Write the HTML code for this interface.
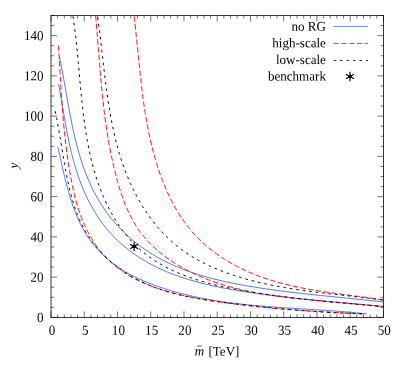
<!DOCTYPE html>
<html><head><meta charset="utf-8"><title>plot</title>
<style>html,body{margin:0;padding:0;background:#fff;}svg{display:block;font-family:"Liberation Serif",serif;will-change:transform;}</style></head><body>
<svg width="407" height="372" viewBox="0 0 407 372">
<rect width="407" height="372" fill="#fff"/>
<defs><clipPath id="c"><rect x="51.0" y="15.5" width="332.45" height="301.9"/></clipPath></defs>
<g clip-path="url(#c)" fill="none" stroke-linecap="butt" stroke-linejoin="round">
<path d="M59.45,57.05 L59.88,59.02 L60.30,61.01 L60.71,63.00 L61.11,65.00 L61.51,67.02 L61.90,69.03 L62.29,71.06 L62.67,73.10 L63.05,75.14 L63.42,77.19 L63.80,79.24 L64.17,81.30 L64.53,83.37 L64.90,85.44 L65.26,87.52 L65.63,89.60 L65.99,91.69 L66.36,93.78 L66.72,95.87 L67.09,97.97 L67.46,100.07 L67.83,102.18 L68.20,104.28 L68.58,106.39 L68.96,108.50 L69.35,110.61 L69.74,112.72 L70.14,114.83 L70.54,116.94 L70.95,119.06 L71.37,121.17 L71.79,123.28 L72.23,125.39 L72.67,127.50 L73.12,129.61 L73.58,131.71 L74.05,133.82 L74.53,135.92 L75.02,138.01 L75.52,140.11 L76.04,142.20 L76.56,144.28 L77.10,146.36 L77.66,148.44 L78.23,150.51 L78.81,152.58 L79.41,154.64 L80.02,156.69 L80.65,158.74 L81.30,160.78 L81.96,162.81 L82.65,164.84 L83.35,166.86 L84.07,168.87 L84.80,170.87 L85.56,172.86 L86.34,174.85 L87.14,176.82 L87.95,178.78 L88.79,180.74 L89.65,182.68 L90.53,184.61 L91.43,186.53 L92.35,188.44 L93.29,190.33 L94.26,192.21 L95.24,194.08 L96.25,195.93 L97.28,197.77 L98.33,199.60 L99.41,201.41 L100.51,203.20 L101.63,204.98 L102.77,206.74 L103.94,208.49 L105.13,210.22 L106.34,211.93 L107.58,213.62 L108.84,215.30 L110.12,216.95 L111.43,218.59 L112.76,220.21 L114.11,221.81 L115.48,223.39 L116.88,224.95 L118.29,226.50 L119.73,228.02 L121.18,229.53 L122.66,231.01 L124.16,232.48 L125.67,233.92 L127.21,235.35 L128.76,236.75 L130.33,238.14 L131.92,239.50 L133.53,240.84 L135.15,242.17 L136.79,243.47 L138.45,244.75 L140.13,246.00 L141.82,247.24 L143.52,248.46 L145.25,249.65 L146.98,250.82 L148.73,251.97 L150.50,253.10 L152.28,254.20 L154.08,255.28 L155.88,256.34 L157.70,257.38 L159.54,258.39 L161.38,259.39 L163.24,260.36 L165.11,261.31 L166.99,262.24 L168.89,263.15 L170.79,264.04 L172.71,264.91 L174.64,265.76 L176.57,266.60 L178.52,267.41 L180.48,268.20 L182.44,268.98 L184.42,269.74 L186.40,270.48 L188.40,271.21 L190.40,271.91 L192.41,272.60 L194.43,273.28 L196.45,273.94 L198.49,274.58 L200.53,275.21 L202.57,275.82 L204.63,276.42 L206.69,277.00 L208.75,277.57 L210.82,278.13 L212.90,278.67 L214.98,279.20 L217.06,279.72 L219.15,280.22 L221.25,280.72 L223.35,281.20 L225.45,281.67 L227.56,282.12 L229.66,282.57 L231.78,283.01 L233.89,283.43 L236.01,283.85 L238.13,284.26 L240.25,284.65 L242.37,285.04 L244.49,285.42 L246.61,285.79 L248.74,286.16 L250.86,286.51 L252.99,286.86 L255.11,287.20 L257.24,287.54 L259.36,287.86 L261.48,288.19 L263.60,288.50 L265.72,288.81 L267.84,289.12 L269.95,289.42 L272.07,289.71 L274.18,290.00 L276.29,290.29 L278.40,290.57 L280.51,290.84 L282.61,291.11 L284.72,291.38 L286.82,291.64 L288.92,291.90 L291.03,292.16 L293.13,292.41 L295.23,292.66 L297.32,292.91 L299.42,293.15 L301.52,293.39 L303.61,293.63 L305.71,293.86 L307.80,294.09 L309.90,294.32 L311.99,294.55 L314.09,294.77 L316.18,294.99 L318.27,295.21 L320.36,295.43 L322.45,295.65 L324.55,295.87 L326.64,296.08 L328.73,296.30 L330.82,296.51 L332.91,296.72 L335.00,296.93 L337.09,297.14 L339.18,297.35 L341.28,297.56 L343.37,297.77 L345.46,297.98 L347.55,298.19 L349.65,298.40 L351.74,298.61 L353.84,298.82 L355.93,299.03 L358.03,299.25 L360.13,299.46 L362.22,299.67 L364.32,299.89 L366.42,300.11 L368.52,300.33 L370.63,300.55 L372.73,300.77 L374.83,301.00 L376.94,301.22 L379.04,301.45 L381.15,301.68 L383.26,301.92" stroke="#4166ea" stroke-width="0.92"/>
<path d="M58.56,83.98 L58.92,85.89 L59.27,87.80 L59.62,89.73 L59.96,91.67 L60.31,93.62 L60.65,95.57 L60.99,97.54 L61.32,99.51 L61.66,101.49 L62.00,103.48 L62.34,105.47 L62.68,107.48 L63.02,109.48 L63.36,111.50 L63.70,113.51 L64.05,115.54 L64.40,117.56 L64.76,119.59 L65.11,121.63 L65.48,123.66 L65.85,125.70 L66.22,127.75 L66.60,129.79 L66.99,131.84 L67.39,133.88 L67.79,135.93 L68.21,137.98 L68.63,140.02 L69.06,142.07 L69.50,144.12 L69.95,146.16 L70.41,148.20 L70.88,150.24 L71.37,152.28 L71.87,154.31 L72.38,156.34 L72.90,158.37 L73.44,160.39 L73.99,162.41 L74.56,164.42 L75.14,166.42 L75.74,168.42 L76.36,170.42 L76.99,172.41 L77.64,174.38 L78.31,176.36 L78.99,178.32 L79.70,180.27 L80.42,182.22 L81.17,184.16 L81.93,186.08 L82.71,188.00 L83.51,189.91 L84.34,191.80 L85.18,193.69 L86.04,195.56 L86.92,197.42 L87.83,199.27 L88.75,201.10 L89.69,202.92 L90.66,204.73 L91.64,206.52 L92.65,208.30 L93.68,210.06 L94.72,211.81 L95.79,213.54 L96.88,215.26 L98.00,216.96 L99.13,218.64 L100.28,220.31 L101.46,221.95 L102.66,223.58 L103.88,225.19 L105.12,226.78 L106.39,228.36 L107.68,229.91 L108.99,231.44 L110.32,232.95 L111.67,234.44 L113.05,235.91 L114.45,237.36 L115.87,238.78 L117.31,240.19 L118.78,241.57 L120.26,242.93 L121.77,244.27 L123.29,245.59 L124.84,246.89 L126.40,248.16 L127.98,249.42 L129.58,250.65 L131.20,251.86 L132.83,253.05 L134.48,254.22 L136.15,255.37 L137.83,256.50 L139.53,257.60 L141.24,258.69 L142.97,259.75 L144.71,260.79 L146.46,261.81 L148.23,262.81 L150.01,263.79 L151.80,264.74 L153.61,265.68 L155.42,266.59 L157.25,267.49 L159.09,268.37 L160.94,269.22 L162.80,270.06 L164.67,270.87 L166.55,271.67 L168.44,272.45 L170.34,273.22 L172.25,273.96 L174.17,274.69 L176.10,275.40 L178.03,276.09 L179.98,276.77 L181.93,277.43 L183.89,278.07 L185.85,278.70 L187.83,279.32 L189.81,279.92 L191.79,280.50 L193.79,281.07 L195.79,281.63 L197.79,282.17 L199.80,282.70 L201.82,283.22 L203.84,283.73 L205.87,284.22 L207.90,284.70 L209.93,285.17 L211.97,285.62 L214.01,286.07 L216.05,286.51 L218.10,286.93 L220.15,287.35 L222.20,287.75 L224.26,288.15 L226.32,288.53 L228.38,288.91 L230.44,289.28 L232.50,289.64 L234.56,290.00 L236.62,290.34 L238.69,290.68 L240.75,291.01 L242.81,291.34 L244.87,291.65 L246.94,291.97 L249.00,292.27 L251.06,292.58 L253.11,292.87 L255.17,293.17 L257.22,293.45 L259.28,293.74 L261.32,294.02 L263.37,294.29 L265.42,294.56 L267.46,294.83 L269.50,295.10 L271.54,295.36 L273.58,295.62 L275.61,295.87 L277.65,296.12 L279.68,296.37 L281.71,296.61 L283.74,296.85 L285.77,297.09 L287.79,297.33 L289.82,297.56 L291.84,297.79 L293.87,298.02 L295.89,298.24 L297.91,298.47 L299.94,298.68 L301.96,298.90 L303.98,299.12 L306.00,299.33 L308.02,299.54 L310.04,299.75 L312.06,299.96 L314.08,300.16 L316.10,300.36 L318.12,300.57 L320.14,300.76 L322.16,300.96 L324.18,301.16 L326.21,301.35 L328.23,301.55 L330.25,301.74 L332.28,301.93 L334.30,302.12 L336.33,302.31 L338.36,302.50 L340.39,302.69 L342.42,302.87 L344.45,303.06 L346.48,303.24 L348.51,303.43 L350.55,303.61 L352.59,303.80 L354.63,303.98 L356.67,304.16 L358.71,304.35 L360.76,304.53 L362.81,304.71 L364.86,304.89 L366.91,305.08 L368.97,305.26 L371.03,305.44 L373.09,305.63 L375.15,305.81 L377.22,306.00 L379.28,306.18 L381.36,306.37 L383.43,306.56" stroke="#4166ea" stroke-width="0.92"/>
<path d="M57.82,146.98 L58.21,148.65 L58.60,150.33 L58.98,152.03 L59.37,153.73 L59.75,155.44 L60.14,157.16 L60.52,158.89 L60.91,160.63 L61.30,162.38 L61.69,164.13 L62.09,165.89 L62.49,167.65 L62.89,169.42 L63.30,171.19 L63.71,172.97 L64.13,174.75 L64.56,176.53 L64.99,178.31 L65.43,180.10 L65.88,181.88 L66.33,183.67 L66.80,185.46 L67.27,187.24 L67.75,189.03 L68.25,190.81 L68.75,192.58 L69.27,194.36 L69.79,196.13 L70.33,197.90 L70.88,199.66 L71.45,201.42 L72.03,203.17 L72.62,204.91 L73.23,206.64 L73.85,208.37 L74.49,210.09 L75.14,211.80 L75.82,213.50 L76.51,215.19 L77.21,216.87 L77.94,218.53 L78.68,220.19 L79.44,221.83 L80.23,223.46 L81.03,225.07 L81.86,226.67 L82.70,228.26 L83.57,229.83 L84.46,231.38 L85.37,232.92 L86.31,234.43 L87.27,235.93 L88.25,237.42 L89.26,238.88 L90.29,240.32 L91.34,241.75 L92.42,243.16 L93.52,244.55 L94.64,245.92 L95.79,247.27 L96.95,248.60 L98.14,249.91 L99.35,251.20 L100.57,252.47 L101.82,253.73 L103.09,254.96 L104.38,256.18 L105.68,257.37 L107.01,258.55 L108.35,259.70 L109.71,260.84 L111.09,261.95 L112.49,263.05 L113.91,264.12 L115.34,265.18 L116.78,266.21 L118.25,267.23 L119.73,268.22 L121.22,269.19 L122.73,270.15 L124.26,271.08 L125.80,271.99 L127.35,272.88 L128.92,273.75 L130.49,274.61 L132.09,275.44 L133.69,276.25 L135.30,277.05 L136.92,277.83 L138.55,278.59 L140.19,279.34 L141.84,280.07 L143.50,280.79 L145.16,281.49 L146.83,282.18 L148.50,282.85 L150.18,283.51 L151.86,284.16 L153.54,284.80 L155.23,285.43 L156.92,286.04 L158.62,286.64 L160.32,287.23 L162.02,287.81 L163.73,288.37 L165.44,288.93 L167.15,289.47 L168.87,290.00 L170.59,290.53 L172.31,291.04 L174.04,291.54 L175.76,292.03 L177.50,292.51 L179.23,292.98 L180.97,293.44 L182.71,293.89 L184.45,294.33 L186.20,294.76 L187.95,295.18 L189.70,295.59 L191.46,295.99 L193.21,296.39 L194.97,296.77 L196.73,297.15 L198.50,297.52 L200.27,297.88 L202.03,298.23 L203.81,298.57 L205.58,298.90 L207.35,299.23 L209.13,299.55 L210.91,299.86 L212.69,300.16 L214.47,300.46 L216.26,300.75 L218.04,301.03 L219.83,301.31 L221.62,301.58 L223.41,301.84 L225.21,302.09 L227.00,302.34 L228.80,302.59 L230.59,302.82 L232.39,303.05 L234.19,303.28 L235.99,303.50 L237.80,303.71 L239.60,303.92 L241.40,304.13 L243.21,304.32 L245.01,304.52 L246.82,304.71 L248.63,304.89 L250.44,305.07 L252.25,305.25 L254.06,305.42 L255.87,305.59 L257.68,305.75 L259.49,305.91 L261.30,306.06 L263.11,306.22 L264.93,306.37 L266.74,306.51 L268.55,306.65 L270.36,306.79 L272.18,306.93 L273.99,307.06 L275.80,307.20 L277.62,307.33 L279.43,307.45 L281.24,307.58 L283.05,307.70 L284.87,307.82 L286.68,307.94 L288.49,308.06 L290.30,308.18 L292.11,308.29 L293.92,308.41 L295.73,308.52 L297.54,308.63 L299.35,308.74 L301.15,308.86 L302.96,308.97 L304.77,309.08 L306.57,309.19 L308.37,309.30 L310.18,309.41 L311.98,309.52 L313.78,309.63 L315.57,309.75 L317.37,309.86 L319.17,309.97 L320.96,310.09 L322.76,310.20 L324.55,310.32 L326.34,310.44 L328.12,310.56 L329.91,310.68 L331.70,310.81 L333.48,310.93 L335.26,311.06 L337.04,311.19 L338.82,311.32 L340.59,311.46 L342.37,311.60 L344.14,311.74 L345.91,311.88 L347.67,312.03 L349.44,312.18 L351.20,312.33 L352.96,312.49 L354.72,312.65 L356.47,312.82 L358.22,312.99 L359.97,313.16 L361.72,313.34 L363.46,313.52 L365.20,313.70 L366.94,313.90" stroke="#4166ea" stroke-width="0.92"/>
<path d="M58.44,45.64 L58.58,47.88 L58.71,50.12 L58.85,52.35 L58.98,54.59 L59.12,56.83 L59.25,59.06 L59.38,61.30 L59.51,63.53 L59.64,65.76 L59.77,67.99 L59.90,70.23 L60.03,72.46 L60.17,74.69 L60.30,76.92 L60.43,79.15 L60.56,81.37 L60.70,83.60 L60.84,85.83 L60.98,88.06 L61.12,90.28 L61.26,92.51 L61.41,94.74 L61.56,96.96 L61.71,99.19 L61.86,101.41 L62.02,103.63 L62.19,105.86 L62.35,108.08 L62.52,110.30 L62.70,112.53 L62.88,114.75 L63.06,116.97 L63.25,119.19 L63.45,121.41 L63.65,123.63 L63.85,125.85 L64.07,128.07 L64.28,130.29 L64.51,132.51 L64.74,134.73 L64.98,136.95 L65.23,139.17 L65.48,141.39 L65.74,143.61 L66.01,145.83 L66.28,148.04 L66.57,150.26 L66.86,152.48 L67.16,154.70 L67.47,156.92 L67.79,159.13 L68.12,161.35 L68.46,163.57 L68.81,165.79 L69.17,168.00 L69.54,170.22 L69.92,172.44 L70.31,174.66 L70.71,176.87 L71.13,179.09 L71.55,181.31 L71.99,183.52 L72.44,185.74 L72.90,187.95 L73.38,190.17 L73.88,192.37 L74.40,194.58 L74.94,196.77 L75.50,198.97 L76.08,201.15 L76.68,203.33 L77.32,205.50 L77.97,207.66 L78.66,209.81 L79.37,211.95 L80.12,214.08 L80.89,216.19 L81.70,218.30 L82.54,220.39 L83.42,222.46 L84.32,224.52 L85.26,226.56 L86.23,228.58 L87.23,230.58 L88.27,232.56 L89.33,234.52 L90.43,236.46 L91.56,238.38 L92.73,240.27 L93.92,242.14 L95.15,243.98 L96.41,245.79 L97.70,247.57 L99.02,249.33 L100.38,251.05 L101.77,252.75 L103.19,254.41 L104.64,256.04 L106.12,257.63 L107.63,259.19 L109.18,260.71 L110.76,262.20 L112.37,263.64 L114.01,265.05 L115.68,266.43 L117.38,267.76 L119.11,269.07 L120.87,270.33 L122.65,271.57 L124.46,272.76 L126.30,273.93 L128.16,275.06 L130.04,276.17 L131.95,277.24 L133.88,278.28 L135.83,279.29 L137.81,280.27 L139.80,281.22 L141.81,282.15 L143.84,283.05 L145.90,283.92 L147.96,284.76 L150.05,285.58 L152.15,286.38 L154.26,287.15 L156.39,287.90 L158.54,288.62 L160.69,289.33 L162.86,290.01 L165.04,290.67 L167.23,291.31 L169.43,291.93 L171.64,292.53 L173.86,293.11 L176.08,293.67 L178.31,294.22 L180.55,294.75 L182.79,295.27 L185.04,295.77 L187.29,296.25 L189.55,296.72 L191.81,297.18 L194.06,297.62 L196.32,298.05 L198.58,298.47 L200.84,298.88 L203.10,299.28 L205.36,299.67 L207.61,300.05 L209.86,300.43 L212.10,300.79 L214.34,301.15 L216.58,301.50 L218.81,301.84 L221.04,302.17 L223.27,302.50 L225.49,302.82 L227.71,303.13 L229.93,303.44 L232.14,303.74 L234.35,304.03 L236.56,304.31 L238.77,304.59 L240.97,304.87 L243.17,305.13 L245.37,305.40 L247.57,305.65 L249.77,305.90 L251.96,306.14 L254.15,306.38 L256.35,306.62 L258.54,306.84 L260.73,307.07 L262.92,307.29 L265.11,307.50 L267.30,307.71 L269.49,307.91 L271.67,308.11 L273.86,308.30 L276.05,308.49 L278.24,308.68 L280.43,308.86 L282.62,309.04 L284.81,309.22 L287.01,309.39 L289.20,309.56 L291.40,309.72 L293.59,309.88 L295.79,310.04 L297.99,310.19 L300.19,310.35 L302.40,310.50 L304.60,310.64 L306.81,310.79 L309.02,310.93 L311.24,311.07 L313.46,311.21 L315.68,311.34 L317.90,311.48 L320.13,311.61 L322.36,311.74 L324.59,311.87 L326.83,312.00 L329.07,312.12 L331.31,312.25 L333.56,312.37 L335.82,312.50 L338.08,312.62 L340.34,312.74 L342.61,312.86 L344.88,312.98 L347.16,313.10 L349.45,313.23 L351.74,313.35 L354.03,313.47 L356.33,313.59 L358.64,313.71 L360.95,313.83 L363.27,313.96" stroke="#ff0000" stroke-width="0.95" stroke-dasharray="5.3 2.5"/>
<path d="M95.66,16.04 L95.86,18.27 L96.05,20.50 L96.24,22.72 L96.43,24.94 L96.62,27.17 L96.80,29.38 L96.99,31.60 L97.17,33.82 L97.34,36.03 L97.52,38.24 L97.70,40.45 L97.87,42.66 L98.05,44.87 L98.22,47.08 L98.39,49.28 L98.57,51.48 L98.74,53.69 L98.92,55.89 L99.09,58.09 L99.27,60.28 L99.45,62.48 L99.62,64.68 L99.80,66.87 L99.99,69.06 L100.17,71.26 L100.36,73.45 L100.55,75.64 L100.74,77.83 L100.93,80.02 L101.13,82.21 L101.34,84.39 L101.54,86.58 L101.75,88.76 L101.96,90.95 L102.18,93.13 L102.41,95.32 L102.63,97.50 L102.87,99.68 L103.11,101.87 L103.35,104.05 L103.60,106.23 L103.86,108.41 L104.12,110.59 L104.39,112.77 L104.66,114.95 L104.95,117.13 L105.24,119.31 L105.54,121.49 L105.84,123.67 L106.16,125.85 L106.48,128.03 L106.81,130.21 L107.15,132.39 L107.49,134.57 L107.85,136.75 L108.22,138.93 L108.59,141.12 L108.98,143.30 L109.38,145.48 L109.78,147.66 L110.20,149.84 L110.63,152.03 L111.06,154.21 L111.51,156.39 L111.98,158.58 L112.45,160.76 L112.93,162.95 L113.43,165.13 L113.94,167.32 L114.46,169.51 L115.00,171.70 L115.55,173.89 L116.11,176.08 L116.69,178.27 L117.28,180.45 L117.89,182.63 L118.52,184.81 L119.16,186.98 L119.83,189.15 L120.51,191.30 L121.22,193.45 L121.95,195.59 L122.70,197.72 L123.47,199.83 L124.27,201.94 L125.09,204.03 L125.94,206.10 L126.81,208.16 L127.71,210.20 L128.64,212.22 L129.60,214.22 L130.59,216.21 L131.61,218.17 L132.66,220.11 L133.75,222.02 L134.86,223.91 L136.01,225.78 L137.20,227.62 L138.42,229.43 L139.68,231.21 L140.98,232.97 L142.31,234.69 L143.67,236.39 L145.07,238.05 L146.51,239.69 L147.97,241.30 L149.47,242.89 L151.00,244.44 L152.55,245.97 L154.14,247.47 L155.75,248.94 L157.39,250.39 L159.06,251.81 L160.75,253.20 L162.46,254.57 L164.20,255.91 L165.96,257.22 L167.75,258.51 L169.55,259.77 L171.37,261.01 L173.22,262.22 L175.08,263.40 L176.96,264.57 L178.85,265.70 L180.76,266.81 L182.69,267.90 L184.63,268.96 L186.58,270.00 L188.55,271.02 L190.53,272.01 L192.51,272.97 L194.51,273.92 L196.52,274.84 L198.53,275.74 L200.55,276.61 L202.58,277.47 L204.62,278.30 L206.67,279.11 L208.72,279.90 L210.78,280.67 L212.85,281.41 L214.93,282.14 L217.01,282.85 L219.10,283.54 L221.20,284.21 L223.30,284.87 L225.41,285.50 L227.53,286.12 L229.65,286.71 L231.78,287.30 L233.91,287.86 L236.05,288.41 L238.20,288.94 L240.34,289.46 L242.50,289.96 L244.66,290.45 L246.82,290.92 L248.99,291.38 L251.16,291.83 L253.34,292.26 L255.52,292.68 L257.70,293.08 L259.89,293.47 L262.08,293.85 L264.28,294.22 L266.48,294.58 L268.68,294.93 L270.88,295.27 L273.09,295.59 L275.30,295.91 L277.51,296.22 L279.72,296.51 L281.94,296.80 L284.15,297.08 L286.37,297.36 L288.59,297.62 L290.81,297.88 L293.04,298.13 L295.26,298.37 L297.48,298.61 L299.71,298.84 L301.93,299.07 L304.16,299.29 L306.38,299.51 L308.61,299.72 L310.84,299.93 L313.06,300.13 L315.28,300.33 L317.51,300.53 L319.73,300.73 L321.95,300.92 L324.17,301.11 L326.39,301.30 L328.61,301.49 L330.82,301.68 L333.04,301.86 L335.25,302.05 L337.46,302.24 L339.66,302.43 L341.87,302.61 L344.07,302.81 L346.27,303.00 L348.46,303.19 L350.65,303.39 L352.84,303.59 L355.02,303.79 L357.21,303.99 L359.38,304.20 L361.55,304.42 L363.72,304.64 L365.89,304.86 L368.05,305.09 L370.20,305.32 L372.35,305.56 L374.49,305.81 L376.63,306.06 L378.77,306.32 L380.89,306.59 L383.02,306.87" stroke="#ff0000" stroke-width="0.95" stroke-dasharray="5.3 2.5"/>
<path d="M134.06,16.29 L134.30,18.24 L134.53,20.19 L134.76,22.14 L134.99,24.09 L135.21,26.04 L135.43,28.00 L135.65,29.95 L135.86,31.90 L136.07,33.86 L136.28,35.81 L136.48,37.77 L136.69,39.73 L136.89,41.68 L137.09,43.64 L137.29,45.60 L137.49,47.56 L137.68,49.52 L137.88,51.48 L138.08,53.44 L138.27,55.40 L138.47,57.36 L138.67,59.33 L138.87,61.29 L139.06,63.25 L139.27,65.22 L139.47,67.18 L139.67,69.15 L139.88,71.11 L140.09,73.08 L140.30,75.05 L140.51,77.01 L140.73,78.98 L140.95,80.95 L141.17,82.92 L141.40,84.88 L141.64,86.85 L141.87,88.82 L142.11,90.79 L142.36,92.76 L142.61,94.73 L142.87,96.70 L143.13,98.67 L143.40,100.64 L143.67,102.61 L143.96,104.58 L144.24,106.55 L144.54,108.52 L144.84,110.49 L145.15,112.46 L145.47,114.43 L145.79,116.40 L146.13,118.37 L146.47,120.35 L146.82,122.32 L147.18,124.29 L147.55,126.26 L147.93,128.23 L148.31,130.20 L148.71,132.17 L149.12,134.14 L149.54,136.11 L149.97,138.08 L150.41,140.05 L150.86,142.02 L151.33,143.99 L151.80,145.95 L152.29,147.92 L152.79,149.88 L153.30,151.84 L153.82,153.79 L154.36,155.75 L154.91,157.70 L155.47,159.64 L156.04,161.58 L156.63,163.52 L157.23,165.45 L157.85,167.37 L158.48,169.29 L159.12,171.21 L159.78,173.11 L160.45,175.01 L161.13,176.90 L161.83,178.79 L162.55,180.67 L163.28,182.54 L164.03,184.40 L164.79,186.25 L165.57,188.09 L166.36,189.92 L167.17,191.74 L168.00,193.56 L168.84,195.36 L169.70,197.15 L170.58,198.93 L171.47,200.69 L172.38,202.45 L173.31,204.19 L174.25,205.92 L175.22,207.64 L176.20,209.34 L177.20,211.03 L178.22,212.71 L179.26,214.37 L180.31,216.01 L181.39,217.64 L182.48,219.26 L183.59,220.86 L184.73,222.44 L185.88,224.01 L187.05,225.56 L188.25,227.09 L189.46,228.60 L190.69,230.10 L191.95,231.58 L193.23,233.04 L194.52,234.48 L195.84,235.90 L197.18,237.30 L198.54,238.68 L199.92,240.04 L201.32,241.38 L202.74,242.71 L204.18,244.01 L205.64,245.30 L207.12,246.57 L208.61,247.81 L210.12,249.04 L211.66,250.25 L213.20,251.44 L214.77,252.61 L216.35,253.77 L217.95,254.90 L219.56,256.02 L221.19,257.11 L222.83,258.19 L224.49,259.25 L226.17,260.29 L227.85,261.31 L229.55,262.32 L231.27,263.31 L233.00,264.27 L234.74,265.22 L236.49,266.15 L238.25,267.07 L240.03,267.96 L241.82,268.84 L243.61,269.70 L245.42,270.54 L247.24,271.37 L249.07,272.17 L250.91,272.96 L252.75,273.73 L254.61,274.48 L256.47,275.22 L258.35,275.94 L260.23,276.64 L262.11,277.32 L264.01,277.99 L265.91,278.63 L267.82,279.27 L269.73,279.88 L271.65,280.48 L273.58,281.06 L275.51,281.63 L277.44,282.18 L279.38,282.72 L281.33,283.24 L283.28,283.75 L285.23,284.25 L287.19,284.73 L289.15,285.20 L291.12,285.66 L293.09,286.10 L295.06,286.53 L297.03,286.96 L299.01,287.37 L300.99,287.77 L302.97,288.16 L304.95,288.54 L306.94,288.91 L308.92,289.27 L310.91,289.62 L312.90,289.96 L314.89,290.30 L316.88,290.63 L318.86,290.95 L320.85,291.26 L322.84,291.57 L324.83,291.87 L326.81,292.17 L328.80,292.46 L330.78,292.74 L332.77,293.02 L334.75,293.30 L336.72,293.57 L338.70,293.84 L340.67,294.10 L342.64,294.37 L344.61,294.63 L346.58,294.88 L348.54,295.14 L350.49,295.39 L352.45,295.65 L354.39,295.90 L356.34,296.15 L358.28,296.41 L360.21,296.66 L362.14,296.91 L364.06,297.17 L365.98,297.42 L367.89,297.68 L369.80,297.94 L371.70,298.21 L373.59,298.47 L375.47,298.74 L377.35,299.02 L379.22,299.30 L381.08,299.58 L382.94,299.87" stroke="#ff0000" stroke-width="0.95" stroke-dasharray="5.3 2.5"/>
<path d="M55.18,111.22 L55.57,113.04 L55.96,114.86 L56.33,116.69 L56.70,118.53 L57.06,120.38 L57.41,122.23 L57.76,124.09 L58.10,125.96 L58.43,127.84 L58.77,129.72 L59.10,131.61 L59.42,133.50 L59.74,135.40 L60.07,137.30 L60.38,139.21 L60.70,141.13 L61.02,143.05 L61.33,144.97 L61.65,146.90 L61.97,148.83 L62.29,150.77 L62.61,152.71 L62.93,154.65 L63.26,156.59 L63.59,158.54 L63.92,160.49 L64.26,162.44 L64.60,164.40 L64.95,166.35 L65.31,168.31 L65.67,170.27 L66.03,172.22 L66.41,174.18 L66.80,176.14 L67.19,178.10 L67.59,180.06 L68.01,182.01 L68.43,183.96 L68.87,185.91 L69.32,187.85 L69.78,189.79 L70.26,191.72 L70.75,193.65 L71.25,195.57 L71.77,197.49 L72.31,199.39 L72.87,201.29 L73.44,203.18 L74.04,205.06 L74.65,206.93 L75.28,208.79 L75.93,210.63 L76.61,212.47 L77.30,214.29 L78.02,216.10 L78.76,217.90 L79.53,219.68 L80.32,221.44 L81.14,223.19 L81.98,224.93 L82.85,226.65 L83.75,228.34 L84.67,230.03 L85.63,231.69 L86.61,233.33 L87.62,234.96 L88.65,236.57 L89.72,238.15 L90.81,239.72 L91.92,241.27 L93.07,242.80 L94.23,244.31 L95.43,245.80 L96.64,247.28 L97.88,248.73 L99.15,250.16 L100.43,251.58 L101.74,252.97 L103.07,254.35 L104.43,255.70 L105.80,257.03 L107.19,258.35 L108.61,259.64 L110.04,260.92 L111.50,262.17 L112.97,263.41 L114.47,264.62 L115.98,265.81 L117.51,266.98 L119.05,268.14 L120.62,269.27 L122.19,270.38 L123.79,271.46 L125.40,272.53 L127.03,273.58 L128.67,274.61 L130.32,275.61 L131.99,276.59 L133.68,277.56 L135.37,278.50 L137.08,279.42 L138.80,280.31 L140.53,281.19 L142.28,282.04 L144.03,282.88 L145.80,283.69 L147.57,284.48 L149.36,285.24 L151.15,285.99 L152.95,286.71 L154.77,287.41 L156.59,288.09 L158.41,288.75 L160.25,289.39 L162.09,290.01 L163.94,290.62 L165.80,291.20 L167.66,291.76 L169.54,292.31 L171.41,292.84 L173.30,293.36 L175.19,293.85 L177.08,294.34 L178.98,294.80 L180.89,295.26 L182.80,295.69 L184.71,296.12 L186.63,296.53 L188.56,296.92 L190.48,297.31 L192.41,297.68 L194.35,298.04 L196.28,298.39 L198.22,298.73 L200.17,299.06 L202.11,299.38 L204.06,299.70 L206.01,300.00 L207.96,300.29 L209.91,300.58 L211.86,300.86 L213.82,301.13 L215.77,301.39 L217.73,301.65 L219.68,301.91 L221.64,302.16 L223.59,302.40 L225.54,302.64 L227.50,302.88 L229.45,303.11 L231.40,303.34 L233.35,303.57 L235.29,303.80 L237.24,304.02 L239.18,304.25 L241.12,304.47 L243.06,304.69 L245.00,304.91 L246.93,305.13 L248.86,305.35 L250.80,305.56 L252.73,305.78 L254.65,305.99 L256.58,306.20 L258.51,306.41 L260.43,306.62 L262.36,306.82 L264.28,307.02 L266.20,307.22 L268.12,307.42 L270.05,307.62 L271.97,307.81 L273.89,308.01 L275.80,308.20 L277.72,308.39 L279.64,308.57 L281.56,308.76 L283.48,308.94 L285.40,309.12 L287.32,309.29 L289.23,309.47 L291.15,309.64 L293.07,309.81 L294.99,309.97 L296.91,310.14 L298.83,310.30 L300.75,310.46 L302.68,310.61 L304.60,310.76 L306.52,310.91 L308.45,311.06 L310.37,311.20 L312.30,311.34 L314.23,311.48 L316.16,311.61 L318.09,311.74 L320.03,311.87 L321.96,312.00 L323.90,312.12 L325.83,312.24 L327.77,312.35 L329.72,312.46 L331.66,312.57 L333.61,312.67 L335.56,312.77 L337.51,312.87 L339.46,312.96 L341.42,313.05 L343.38,313.14 L345.34,313.22 L347.30,313.29 L349.27,313.37 L351.24,313.44 L353.21,313.50 L355.19,313.57 L357.17,313.62 L359.15,313.68 L361.13,313.73 L363.12,313.77" stroke="#000000" stroke-width="1.0" stroke-dasharray="2.6 3.9"/>
<path d="M72.97,16.30 L73.30,18.50 L73.63,20.70 L73.94,22.91 L74.25,25.12 L74.55,27.34 L74.83,29.56 L75.11,31.79 L75.38,34.03 L75.65,36.27 L75.90,38.51 L76.15,40.76 L76.39,43.02 L76.63,45.28 L76.86,47.54 L77.09,49.81 L77.31,52.08 L77.53,54.35 L77.75,56.63 L77.96,58.91 L78.17,61.20 L78.38,63.49 L78.59,65.78 L78.79,68.07 L79.00,70.36 L79.20,72.66 L79.40,74.96 L79.61,77.26 L79.82,79.56 L80.02,81.87 L80.23,84.17 L80.45,86.48 L80.66,88.79 L80.88,91.09 L81.10,93.40 L81.33,95.71 L81.56,98.02 L81.80,100.32 L82.04,102.63 L82.29,104.94 L82.54,107.24 L82.81,109.55 L83.07,111.85 L83.35,114.16 L83.64,116.46 L83.93,118.76 L84.24,121.05 L84.55,123.35 L84.88,125.64 L85.21,127.93 L85.56,130.22 L85.92,132.51 L86.29,134.79 L86.67,137.07 L87.06,139.34 L87.47,141.62 L87.90,143.88 L88.33,146.15 L88.79,148.41 L89.25,150.66 L89.74,152.91 L90.24,155.16 L90.75,157.40 L91.29,159.64 L91.84,161.87 L92.41,164.09 L92.99,166.31 L93.60,168.53 L94.22,170.73 L94.87,172.94 L95.54,175.13 L96.22,177.32 L96.93,179.50 L97.66,181.67 L98.41,183.84 L99.19,186.00 L99.98,188.15 L100.80,190.30 L101.65,192.43 L102.52,194.56 L103.41,196.68 L104.33,198.79 L105.27,200.89 L106.24,202.97 L107.24,205.05 L108.26,207.11 L109.31,209.16 L110.38,211.19 L111.48,213.20 L112.60,215.20 L113.75,217.18 L114.93,219.14 L116.14,221.09 L117.37,223.01 L118.63,224.91 L119.92,226.79 L121.24,228.64 L122.59,230.48 L123.96,232.28 L125.36,234.07 L126.80,235.82 L128.26,237.55 L129.75,239.25 L131.27,240.92 L132.82,242.56 L134.40,244.17 L136.01,245.75 L137.64,247.30 L139.31,248.82 L141.01,250.30 L142.73,251.75 L144.48,253.17 L146.25,254.56 L148.05,255.92 L149.87,257.25 L151.72,258.54 L153.58,259.81 L155.47,261.04 L157.39,262.24 L159.32,263.41 L161.27,264.55 L163.24,265.66 L165.23,266.74 L167.24,267.79 L169.27,268.82 L171.31,269.82 L173.37,270.79 L175.45,271.73 L177.54,272.65 L179.65,273.55 L181.77,274.41 L183.91,275.26 L186.06,276.08 L188.23,276.88 L190.40,277.66 L192.59,278.41 L194.79,279.14 L197.00,279.86 L199.22,280.55 L201.45,281.22 L203.68,281.87 L205.93,282.51 L208.19,283.12 L210.45,283.72 L212.72,284.30 L214.99,284.87 L217.27,285.42 L219.56,285.95 L221.85,286.47 L224.15,286.98 L226.45,287.47 L228.75,287.94 L231.05,288.41 L233.36,288.86 L235.67,289.30 L237.97,289.73 L240.28,290.15 L242.59,290.56 L244.90,290.96 L247.20,291.35 L249.51,291.73 L251.81,292.10 L254.11,292.47 L256.40,292.83 L258.69,293.18 L260.98,293.53 L263.26,293.87 L265.54,294.21 L267.82,294.54 L270.09,294.86 L272.35,295.18 L274.62,295.50 L276.88,295.81 L279.14,296.11 L281.39,296.41 L283.65,296.70 L285.90,296.99 L288.15,297.28 L290.39,297.56 L292.64,297.83 L294.89,298.11 L297.13,298.37 L299.37,298.64 L301.61,298.89 L303.86,299.15 L306.10,299.40 L308.34,299.65 L310.58,299.89 L312.82,300.13 L315.06,300.37 L317.31,300.60 L319.55,300.83 L321.80,301.06 L324.04,301.28 L326.29,301.51 L328.54,301.72 L330.79,301.94 L333.05,302.15 L335.30,302.36 L337.56,302.57 L339.83,302.78 L342.09,302.98 L344.36,303.19 L346.63,303.39 L348.91,303.58 L351.19,303.78 L353.47,303.97 L355.76,304.17 L358.05,304.36 L360.35,304.55 L362.65,304.74 L364.96,304.93 L367.27,305.11 L369.59,305.30 L371.91,305.48 L374.24,305.67 L376.57,305.85 L378.92,306.04 L381.26,306.22 L383.62,306.40" stroke="#000000" stroke-width="1.0" stroke-dasharray="2.6 3.9"/>
<path d="M97.73,17.41 L98.02,19.44 L98.30,21.48 L98.58,23.52 L98.85,25.57 L99.12,27.62 L99.38,29.68 L99.64,31.74 L99.90,33.80 L100.15,35.87 L100.40,37.95 L100.65,40.03 L100.90,42.11 L101.14,44.20 L101.38,46.29 L101.62,48.38 L101.86,50.48 L102.10,52.58 L102.34,54.68 L102.58,56.79 L102.82,58.89 L103.06,61.00 L103.30,63.12 L103.54,65.23 L103.78,67.35 L104.03,69.47 L104.28,71.59 L104.53,73.71 L104.78,75.83 L105.04,77.95 L105.30,80.08 L105.56,82.20 L105.83,84.33 L106.11,86.46 L106.39,88.58 L106.67,90.71 L106.96,92.83 L107.26,94.96 L107.56,97.09 L107.87,99.21 L108.19,101.34 L108.51,103.46 L108.85,105.58 L109.19,107.70 L109.54,109.82 L109.89,111.94 L110.26,114.05 L110.64,116.17 L111.02,118.28 L111.42,120.39 L111.82,122.50 L112.24,124.60 L112.67,126.70 L113.11,128.80 L113.56,130.89 L114.03,132.99 L114.50,135.07 L114.99,137.16 L115.50,139.24 L116.01,141.32 L116.54,143.39 L117.09,145.46 L117.65,147.52 L118.22,149.58 L118.81,151.64 L119.41,153.68 L120.03,155.73 L120.67,157.77 L121.32,159.80 L121.99,161.83 L122.68,163.85 L123.38,165.86 L124.10,167.87 L124.85,169.88 L125.60,171.87 L126.38,173.86 L127.18,175.85 L127.99,177.82 L128.83,179.79 L129.68,181.74 L130.55,183.69 L131.45,185.63 L132.36,187.56 L133.28,189.48 L134.23,191.39 L135.20,193.29 L136.19,195.17 L137.19,197.05 L138.22,198.91 L139.26,200.76 L140.33,202.60 L141.41,204.42 L142.51,206.23 L143.63,208.02 L144.78,209.80 L145.94,211.56 L147.12,213.31 L148.32,215.04 L149.54,216.76 L150.78,218.46 L152.04,220.14 L153.32,221.80 L154.62,223.44 L155.94,225.07 L157.28,226.68 L158.64,228.26 L160.02,229.83 L161.42,231.38 L162.84,232.90 L164.28,234.41 L165.74,235.89 L167.22,237.35 L168.72,238.79 L170.24,240.21 L171.78,241.60 L173.35,242.97 L174.93,244.32 L176.53,245.64 L178.16,246.93 L179.80,248.20 L181.47,249.45 L183.15,250.67 L184.85,251.87 L186.57,253.04 L188.31,254.19 L190.07,255.32 L191.84,256.42 L193.63,257.50 L195.44,258.56 L197.26,259.60 L199.10,260.62 L200.96,261.61 L202.83,262.59 L204.71,263.54 L206.60,264.47 L208.51,265.39 L210.44,266.28 L212.37,267.15 L214.32,268.01 L216.28,268.84 L218.24,269.66 L220.22,270.45 L222.22,271.23 L224.22,271.99 L226.22,272.74 L228.24,273.46 L230.27,274.17 L232.31,274.86 L234.35,275.54 L236.40,276.20 L238.46,276.84 L240.52,277.47 L242.59,278.08 L244.66,278.68 L246.74,279.26 L248.83,279.83 L250.92,280.39 L253.01,280.93 L255.11,281.45 L257.21,281.97 L259.31,282.47 L261.41,282.95 L263.51,283.43 L265.62,283.89 L267.73,284.34 L269.84,284.78 L271.95,285.21 L274.05,285.63 L276.17,286.04 L278.28,286.43 L280.39,286.82 L282.50,287.20 L284.61,287.56 L286.72,287.92 L288.84,288.27 L290.95,288.61 L293.06,288.95 L295.18,289.27 L297.29,289.59 L299.40,289.90 L301.52,290.20 L303.63,290.50 L305.74,290.79 L307.85,291.08 L309.97,291.36 L312.08,291.63 L314.19,291.90 L316.30,292.17 L318.41,292.43 L320.52,292.69 L322.63,292.94 L324.73,293.19 L326.84,293.44 L328.94,293.68 L331.05,293.92 L333.15,294.16 L335.25,294.40 L337.35,294.64 L339.45,294.87 L341.55,295.11 L343.65,295.34 L345.74,295.57 L347.83,295.81 L349.93,296.04 L352.01,296.28 L354.10,296.51 L356.19,296.75 L358.27,296.99 L360.35,297.23 L362.43,297.47 L364.51,297.72 L366.59,297.97 L368.66,298.22 L370.73,298.48 L372.80,298.74 L374.86,299.00 L376.92,299.27 L378.99,299.55 L381.04,299.83 L383.10,300.11" stroke="#000000" stroke-width="1.0" stroke-dasharray="2.6 3.9"/>
</g>
<path d="M134.10,241.80 L134.10,251.20 M130.03,244.15 L138.17,248.85 M138.17,244.15 L130.03,248.85" stroke="#000" stroke-width="1.15" fill="none"/><ellipse cx="134.1" cy="246.5" rx="2.0" ry="1.5" fill="#000"/>
<path d="M350.00,71.80 L350.00,81.20 M345.93,74.15 L354.07,78.85 M354.07,74.15 L345.93,78.85" stroke="#000" stroke-width="1.15" fill="none"/><ellipse cx="350.0" cy="76.5" rx="2.0" ry="1.5" fill="#000"/>
<path d="M51.00,317.4 v-6 M51.00,15.5 v6 M57.65,317.4 v-3 M57.65,15.5 v3 M64.30,317.4 v-3 M64.30,15.5 v3 M70.95,317.4 v-3 M70.95,15.5 v3 M77.60,317.4 v-3 M77.60,15.5 v3 M84.25,317.4 v-6 M84.25,15.5 v6 M90.89,317.4 v-3 M90.89,15.5 v3 M97.54,317.4 v-3 M97.54,15.5 v3 M104.19,317.4 v-3 M104.19,15.5 v3 M110.84,317.4 v-3 M110.84,15.5 v3 M117.49,317.4 v-6 M117.49,15.5 v6 M124.14,317.4 v-3 M124.14,15.5 v3 M130.79,317.4 v-3 M130.79,15.5 v3 M137.44,317.4 v-3 M137.44,15.5 v3 M144.09,317.4 v-3 M144.09,15.5 v3 M150.74,317.4 v-6 M150.74,15.5 v6 M157.38,317.4 v-3 M157.38,15.5 v3 M164.03,317.4 v-3 M164.03,15.5 v3 M170.68,317.4 v-3 M170.68,15.5 v3 M177.33,317.4 v-3 M177.33,15.5 v3 M183.98,317.4 v-6 M183.98,15.5 v6 M190.63,317.4 v-3 M190.63,15.5 v3 M197.28,317.4 v-3 M197.28,15.5 v3 M203.93,317.4 v-3 M203.93,15.5 v3 M210.58,317.4 v-3 M210.58,15.5 v3 M217.22,317.4 v-6 M217.22,15.5 v6 M223.87,317.4 v-3 M223.87,15.5 v3 M230.52,317.4 v-3 M230.52,15.5 v3 M237.17,317.4 v-3 M237.17,15.5 v3 M243.82,317.4 v-3 M243.82,15.5 v3 M250.47,317.4 v-6 M250.47,15.5 v6 M257.12,317.4 v-3 M257.12,15.5 v3 M263.77,317.4 v-3 M263.77,15.5 v3 M270.42,317.4 v-3 M270.42,15.5 v3 M277.07,317.4 v-3 M277.07,15.5 v3 M283.72,317.4 v-6 M283.72,15.5 v6 M290.36,317.4 v-3 M290.36,15.5 v3 M297.01,317.4 v-3 M297.01,15.5 v3 M303.66,317.4 v-3 M303.66,15.5 v3 M310.31,317.4 v-3 M310.31,15.5 v3 M316.96,317.4 v-6 M316.96,15.5 v6 M323.61,317.4 v-3 M323.61,15.5 v3 M330.26,317.4 v-3 M330.26,15.5 v3 M336.91,317.4 v-3 M336.91,15.5 v3 M343.56,317.4 v-3 M343.56,15.5 v3 M350.20,317.4 v-6 M350.20,15.5 v6 M356.85,317.4 v-3 M356.85,15.5 v3 M363.50,317.4 v-3 M363.50,15.5 v3 M370.15,317.4 v-3 M370.15,15.5 v3 M376.80,317.4 v-3 M376.80,15.5 v3 M383.45,317.4 v-6 M383.45,15.5 v6 M51.0,317.40 h6 M383.45,317.40 h-6 M51.0,307.34 h3 M383.45,307.34 h-3 M51.0,297.27 h3 M383.45,297.27 h-3 M51.0,287.21 h3 M383.45,287.21 h-3 M51.0,277.15 h6 M383.45,277.15 h-6 M51.0,267.08 h3 M383.45,267.08 h-3 M51.0,257.02 h3 M383.45,257.02 h-3 M51.0,246.96 h3 M383.45,246.96 h-3 M51.0,236.89 h6 M383.45,236.89 h-6 M51.0,226.83 h3 M383.45,226.83 h-3 M51.0,216.77 h3 M383.45,216.77 h-3 M51.0,206.70 h3 M383.45,206.70 h-3 M51.0,196.64 h6 M383.45,196.64 h-6 M51.0,186.58 h3 M383.45,186.58 h-3 M51.0,176.51 h3 M383.45,176.51 h-3 M51.0,166.45 h3 M383.45,166.45 h-3 M51.0,156.39 h6 M383.45,156.39 h-6 M51.0,146.32 h3 M383.45,146.32 h-3 M51.0,136.26 h3 M383.45,136.26 h-3 M51.0,126.20 h3 M383.45,126.20 h-3 M51.0,116.13 h6 M383.45,116.13 h-6 M51.0,106.07 h3 M383.45,106.07 h-3 M51.0,96.01 h3 M383.45,96.01 h-3 M51.0,85.94 h3 M383.45,85.94 h-3 M51.0,75.88 h6 M383.45,75.88 h-6 M51.0,65.82 h3 M383.45,65.82 h-3 M51.0,55.75 h3 M383.45,55.75 h-3 M51.0,45.69 h3 M383.45,45.69 h-3 M51.0,35.63 h6 M383.45,35.63 h-6 M51.0,25.56 h3 M383.45,25.56 h-3 M51.0,15.50 h3 M383.45,15.50 h-3" stroke="#000000" stroke-width="0.55" fill="none"/>
<rect x="51.0" y="15.5" width="332.45" height="301.9" fill="none" stroke="#000000" stroke-width="0.78"/>
<g font-size="13.05" fill="#000">
<text transform="translate(51.90,334.85) rotate(0.03) scale(1,1.06)" text-anchor="middle">0</text>
<text transform="translate(85.15,334.85) rotate(0.03) scale(1,1.06)" text-anchor="middle">5</text>
<text transform="translate(118.39,334.85) rotate(0.03) scale(1,1.06)" text-anchor="middle">10</text>
<text transform="translate(151.64,334.85) rotate(0.03) scale(1,1.06)" text-anchor="middle">15</text>
<text transform="translate(184.88,334.85) rotate(0.03) scale(1,1.06)" text-anchor="middle">20</text>
<text transform="translate(218.12,334.85) rotate(0.03) scale(1,1.06)" text-anchor="middle">25</text>
<text transform="translate(251.37,334.85) rotate(0.03) scale(1,1.06)" text-anchor="middle">30</text>
<text transform="translate(284.62,334.85) rotate(0.03) scale(1,1.06)" text-anchor="middle">35</text>
<text transform="translate(317.86,334.85) rotate(0.03) scale(1,1.06)" text-anchor="middle">40</text>
<text transform="translate(351.10,334.85) rotate(0.03) scale(1,1.06)" text-anchor="middle">45</text>
<text transform="translate(384.35,334.85) rotate(0.03) scale(1,1.06)" text-anchor="middle">50</text>
<text transform="translate(43.50,321.90) rotate(0.03) scale(1,1.06)" text-anchor="end">0</text>
<text transform="translate(43.50,281.65) rotate(0.03) scale(1,1.06)" text-anchor="end">20</text>
<text transform="translate(43.50,241.39) rotate(0.03) scale(1,1.06)" text-anchor="end">40</text>
<text transform="translate(43.50,201.14) rotate(0.03) scale(1,1.06)" text-anchor="end">60</text>
<text transform="translate(43.50,160.89) rotate(0.03) scale(1,1.06)" text-anchor="end">80</text>
<text transform="translate(43.50,120.63) rotate(0.03) scale(1,1.06)" text-anchor="end">100</text>
<text transform="translate(43.50,80.38) rotate(0.03) scale(1,1.06)" text-anchor="end">120</text>
<text transform="translate(43.50,40.13) rotate(0.03) scale(1,1.06)" text-anchor="end">140</text>
<text transform="translate(204.20,355.60) rotate(0.03) scale(1,1.03)" text-anchor="end" font-style="italic">m</text>
<text transform="translate(208.50,355.60) rotate(0.03) scale(1,1.0)" text-anchor="start" font-size="13.0">[TeV]</text>
<text transform="translate(17.7,165.6) rotate(-90.03)" text-anchor="middle" font-style="italic">y</text>
<path d="M197.3,346.6 q1.1,-1.3 2.3,-0.5 t2.3,-0.5" fill="none" stroke="#000" stroke-width="0.7"/>
<text transform="translate(325.90,30.75) rotate(0.03) scale(1,1.03)" text-anchor="end">no RG</text>
<text transform="translate(325.90,47.30) rotate(0.03) scale(1,1.03)" text-anchor="end">high-scale</text>
<text transform="translate(325.90,63.90) rotate(0.03) scale(1,1.03)" text-anchor="end">low-scale</text>
<text transform="translate(325.90,80.45) rotate(0.03) scale(1,1.03)" text-anchor="end">benchmark</text>
</g>
<path d="M333.5,26.5 H368" stroke="#4166ea" stroke-width="0.72"/>
<path d="M333.5,43.4 H368" stroke="#ff0000" stroke-width="0.8" stroke-dasharray="5.3 2.5"/>
<path d="M333.5,60.45 H368" stroke="#000000" stroke-width="0.82" stroke-dasharray="2.6 3.9"/>
</svg></body></html>
